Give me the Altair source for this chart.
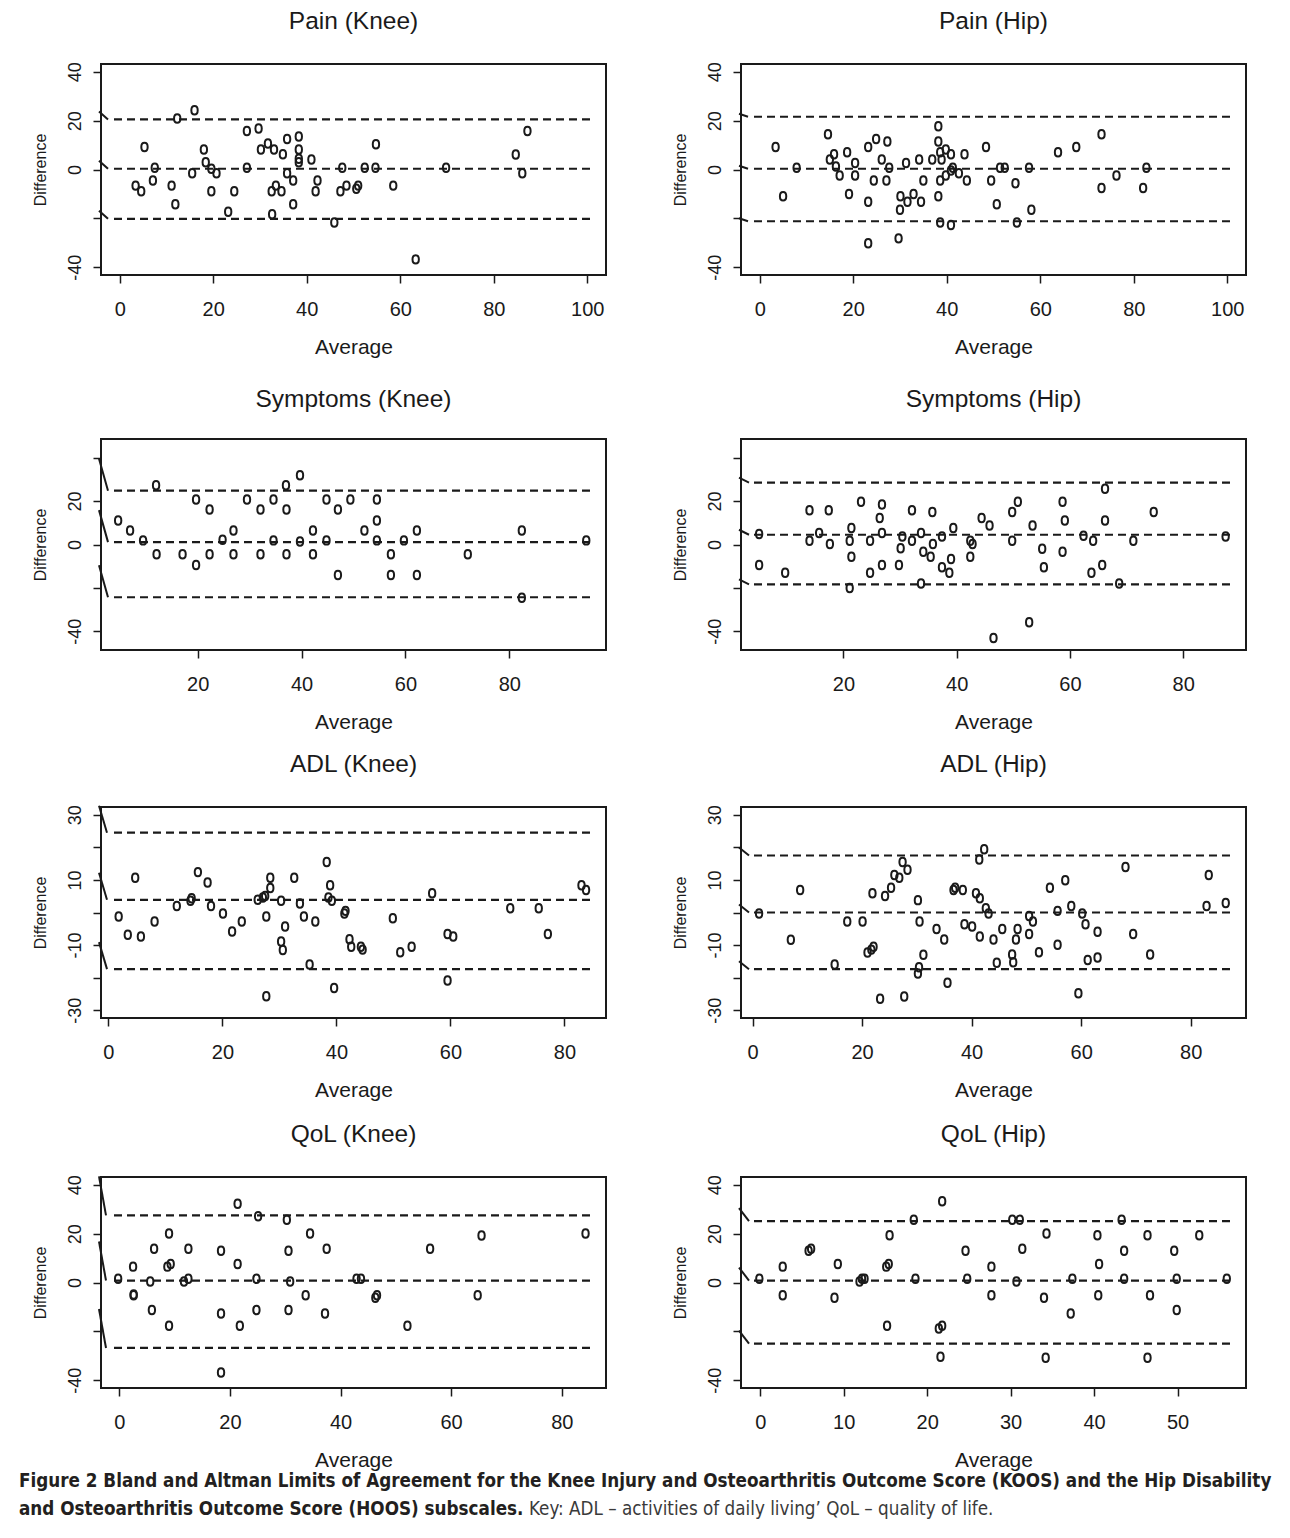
import altair as alt
import pandas as pd

FONT = "Liberation Sans"
CAP_FONT = "Liberation Sans Narrow, DejaVu Sans Condensed, sans-serif"
INK = "#1a1a1a"

# ---------------- data ----------------
# Pain (Knee)
pain_knee_avg = [5.3, 7.5, 7.1, 3.4, 4.6, 11.1, 12.3, 16.0, 11.9, 15.5, 18.0, 18.4, 19.6, 20.7, 19.6,
                 24.5, 23.2, 27.2, 29.7, 27.2, 30.2, 31.7, 33.0, 34.9, 35.8, 38.3, 38.3, 38.3, 38.3, 41.0,
                 35.8, 37.1, 33.4, 32.5, 34.6, 37.1, 32.6, 42.3, 41.9, 45.9, 47.6, 48.5, 47.2, 51.0, 50.6,
                 52.4, 54.7, 54.8, 58.5, 63.3, 69.8, 84.7, 87.2, 86.1]
pain_knee_diff = [9.2, 0.7, -4.5, -6.6, -8.9, -6.6, 20.9, 24.3, -14.2, -1.5, 8.2, 3.0, 0.3, -1.5, -8.9,
                  -8.9, -17.3, 15.8, 16.8, 0.7, 8.2, 10.6, 8.2, 6.2, 12.5, 13.5, 8.2, 4.4, 3.0, 4.1,
                  -1.5, -4.5, -6.6, -8.9, -8.9, -14.2, -18.3, -4.5, -8.9, -21.7, 0.7, -6.6, -8.9, -6.6, -7.9,
                  0.7, 0.7, 10.3, -6.6, -36.8, 0.7, 6.1, 15.8, -1.5]
pain_knee_loa = [0.3, 20.5, -20.2]

# Pain (Hip)
pain_hip_avg = [3.4, 5.0, 7.9, 14.6, 15.9, 15.0, 16.3, 17.1, 18.7, 20.4, 20.4, 19.1, 23.2, 24.9, 27.3,
                26.1, 27.7, 24.4, 27.1, 23.2, 23.2, 29.7, 30.1, 31.6, 32.9, 30.0, 34.5, 31.3, 34.1, 36.9,
                35.0, 38.2, 38.2, 38.6, 39.8, 40.9, 38.9, 43.8, 41.3, 40.9, 42.6, 39.8, 38.6, 38.2, 38.6,
                40.9, 44.3, 48.4, 49.5, 51.4, 52.4, 50.7, 54.7, 55.0, 57.6, 58.1, 63.8, 67.7, 73.1, 73.1,
                76.3, 82.0, 82.7]
pain_hip_diff = [9.2, -11.0, 0.7, 14.4, 6.2, 4.1, 1.2, -2.5, 7.1, 2.7, -2.5, -10.0, 9.2, 12.5, 11.5,
                 4.1, 0.7, -4.5, -4.5, -13.2, -30.2, -28.2, -11.0, -13.2, -10.0, -16.5, -13.2, 2.7, 4.1, 4.1,
                 -4.5, 17.7, 11.5, 7.1, 8.2, 6.2, 4.1, 6.2, 0.7, -0.4, -1.5, -2.5, -4.5, -11.0, -21.7,
                 -22.7, -4.5, 9.2, -4.5, 0.7, 0.7, -14.2, -5.6, -21.7, 0.7, -16.5, 7.1, 9.2, 14.4, -7.6,
                 -2.5, -7.6, 0.7]
pain_hip_loa = [0.3, 21.6, -21.2]

# Symptoms (Knee)
sym_knee_avg = [4.7, 7.0, 9.5, 12.0, 12.1, 17.1, 19.7, 19.7, 22.3, 22.3, 24.8, 26.9, 26.9, 29.5, 32.1,
                32.1, 34.6, 34.6, 37.0, 37.1, 37.1, 39.7, 39.7, 42.2, 42.2, 44.8, 44.8, 47.0, 47.0, 49.4,
                52.1, 54.5, 54.5, 54.5, 57.2, 57.2, 59.7, 62.2, 62.2, 72.0, 82.4, 82.4, 94.8]
sym_knee_diff = [11.1, 6.5, 1.9, 27.3, -4.5, -4.5, 20.7, -9.4, 16.1, -4.5, 2.2, 6.5, -4.5, 20.7, 16.1,
                 -4.5, 20.7, 1.9, 27.3, 16.1, -4.5, 31.9, 1.4, 6.5, -4.5, 20.7, 1.9, 16.1, -14.1, 20.7,
                 6.5, 20.7, 11.1, 1.9, -4.5, -14.1, 1.9, 6.5, -14.1, -4.5, 6.5, -24.5, 1.9]
sym_knee_loa = [1.1, 24.8, -24.3]

# Symptoms (Hip)
sym_hip_avg = [5.1, 5.1, 9.7, 14.0, 14.0, 15.7, 17.4, 17.6, 21.1, 21.4, 21.4, 21.1, 23.1, 24.7, 24.7,
               26.8, 26.4, 26.8, 26.8, 29.8, 30.1, 30.4, 32.1, 32.1, 33.7, 33.7, 34.1, 35.4, 35.7, 35.8,
               37.4, 37.4, 38.7, 39.0, 39.4, 42.4, 42.8, 42.4, 44.4, 45.8, 49.8, 50.8, 49.8, 53.4, 55.1,
               55.4, 52.8, 46.5, 58.7, 59.1, 58.7, 62.4, 64.1, 63.8, 65.7, 66.2, 66.2, 68.7, 71.2, 74.8,
               87.5]
sym_hip_diff = [4.8, -9.4, -13.0, 15.8, 1.7, 5.3, 15.8, 0.2, 1.7, 7.6, -5.6, -20.0, 19.7, 1.7, -13.0,
                18.4, 12.2, 5.3, -9.4, -9.4, -1.7, 3.7, 15.8, 1.7, 5.3, -18.0, -3.3, -5.6, 15.0, 0.2,
                3.7, -10.5, -13.0, -6.7, 7.6, 1.7, 0.2, -5.6, 12.2, 8.7, 15.0, 19.7, 1.7, 8.7, -2.0,
                -10.5, -35.8, -43.1, 19.7, 11.1, -3.3, 4.0, 1.7, -13.0, -9.4, 25.7, 11.1, -18.0, 1.7, 15.0,
                3.7]
sym_hip_loa = [4.5, 28.5, -18.4]

# ADL (Knee)
adl_knee_avg = [1.8, 3.4, 4.7, 5.7, 8.1, 12.0, 14.4, 14.6, 15.7, 17.4, 18.0, 20.1, 21.7, 23.4, 26.2,
                27.1, 27.5, 27.7, 28.4, 28.4, 30.3, 31.0, 30.3, 30.6, 32.6, 33.6, 34.3, 36.3, 35.3, 27.7,
                38.3, 38.9, 38.6, 39.2, 41.4, 41.6, 42.3, 42.6, 44.3, 44.6, 39.6, 49.9, 51.2, 53.2, 56.8,
                59.5, 60.5, 59.5, 70.5, 75.5, 77.1, 83.0, 83.8]
adl_knee_diff = [-1.2, -6.8, 10.7, -7.4, -2.8, 2.0, 3.6, 4.4, 12.4, 9.2, 2.0, -0.3, -5.8, -2.8, 3.9,
                 4.6, 5.1, -1.2, 7.5, 10.7, 3.6, -4.3, -8.9, -11.5, 10.7, 2.8, -1.2, -2.8, -16.0, -25.7,
                 15.5, 8.4, 4.6, 3.6, -0.3, 0.5, -8.2, -10.5, -10.5, -11.4, -23.2, -1.8, -12.2, -10.5, 5.9,
                 -6.6, -7.4, -20.9, 1.3, 1.3, -6.6, 8.4, 6.9]
adl_knee_loa = [3.9, 24.5, -17.4]

# ADL (Hip)
adl_hip_avg = [1.2, 7.0, 8.7, 15.0, 17.3, 20.1, 21.0, 21.7, 22.1, 21.9, 23.3, 24.2, 25.3, 25.9, 26.8,
               27.4, 28.3, 27.7, 30.2, 30.5, 31.2, 30.4, 30.2, 33.6, 35.0, 35.6, 36.7, 37.0, 38.4, 38.7,
               40.1, 40.8, 41.5, 41.4, 42.3, 41.5, 42.6, 43.1, 44.0, 44.6, 45.6, 47.4, 47.6, 48.1, 48.4,
               50.5, 51.2, 50.5, 52.3, 54.3, 55.7, 55.7, 57.1, 58.2, 60.2, 60.8, 59.5, 61.2, 63.0, 63.0,
               68.1, 69.5, 72.6, 82.9, 83.3, 86.4]
adl_hip_diff = [-0.3, -8.4, 6.9, -16.0, -2.8, -2.8, -12.3, -11.4, -10.5, 5.9, -26.5, 5.1, 7.6, 11.5, 10.7,
                15.5, 13.1, -25.8, 3.8, -2.8, -13.0, -16.8, -18.7, -5.1, -8.3, -21.6, 6.9, 7.6, 6.9, -3.6,
                -4.3, 5.9, 4.4, 16.3, 19.4, -7.4, 1.3, -0.3, -8.3, -15.4, -5.1, -12.9, -15.3, -8.3, -5.1,
                -1.1, -2.8, -6.6, -12.2, 7.6, 0.5, -9.9, 9.9, 2.0, -0.3, -3.6, -24.8, -14.6, -13.8, -5.9,
                14.0, -6.6, -12.9, 2.0, 11.5, 2.9]
adl_hip_loa = [0.0, 17.5, -17.4]

# QoL (Knee)
qol_knee_avg = [-0.2, 2.5, 2.6, 2.6, 5.6, 5.9, 6.3, 8.7, 9.3, 9.0, 9.0, 11.7, 12.5, 12.5, 18.4,
                18.4, 18.4, 21.4, 21.4, 21.8, 24.8, 24.8, 25.1, 30.3, 30.6, 30.6, 30.9, 33.7, 34.5, 37.2,
                37.5, 42.9, 43.7, 46.3, 46.6, 52.1, 56.2, 64.8, 65.5, 84.3]
qol_knee_diff = [1.5, 6.5, -5.2, -4.9, 0.4, -11.3, 13.8, 6.5, 7.6, 20.1, -17.7, 0.4, 1.5, 13.8, 13.0,
                 -12.7, -36.9, 32.2, 7.6, -17.7, 1.5, -11.3, 27.1, 25.7, 13.0, -11.3, 0.4, -5.2, 20.1, -12.7,
                 13.8, 1.5, 1.5, -6.2, -5.2, -17.7, 13.8, -5.2, 19.2, 20.1]
qol_knee_loa = [0.8, 27.5, -26.8]

# QoL (Hip)
qol_hip_avg = [-0.1, 2.7, 2.7, 5.8, 6.1, 8.9, 9.3, 11.9, 12.2, 12.5, 15.1, 15.4, 15.5, 15.2, 18.4,
               18.6, 21.4, 21.8, 21.8, 21.6, 24.6, 24.8, 27.7, 27.7, 30.2, 31.1, 31.4, 30.7, 34.3, 34.0,
               34.2, 37.2, 37.4, 40.4, 40.6, 40.5, 43.3, 43.6, 43.6, 46.4, 46.7, 46.4, 49.6, 49.9, 49.9,
               52.6, 55.9]
qol_hip_diff = [1.5, 6.5, -5.2, 13.0, 13.8, -6.2, 7.6, 0.4, 1.5, 1.5, 6.5, 7.6, 19.3, -17.7, 25.7,
                1.5, -18.8, -17.7, 33.3, -30.4, 13.0, 1.5, 6.5, -5.2, 25.7, 25.7, 13.8, 0.4, 20.1, -6.2,
                -30.8, -12.7, 1.5, 19.3, 7.6, -5.2, 25.7, 13.0, 1.5, 19.3, -5.2, -30.8, 13.0, -11.3, 1.5,
                19.3, 1.5]
qol_hip_loa = [0.8, 25.1, -25.0]

# axis ranges / ticks
x_dom_pain = [-4, 104]
x_dom_sym_knee = [1.4, 98.6]
x_dom_sym_hip = [1.9, 91.1]
x_dom_adl_knee = [-1.3, 87.3]
x_dom_adl_hip = [-2.1, 90.1]
x_dom_qol_knee = [-3.3, 88.0]
x_dom_qol_hip = [-2.3, 58.2]
y_dom_pain = [-43.2, 43.2]
y_dom_sym = [-48.6, 48.6]
y_dom_adl = [-32.4, 32.4]
y_dom_qol = [-43.2, 43.2]
x_ticks_100 = [0, 20, 40, 60, 80, 100]
x_ticks_sym = [20, 40, 60, 80]
x_ticks_80 = [0, 20, 40, 60, 80]
x_ticks_50 = [0, 10, 20, 30, 40, 50]
y_ticks_40 = [-40, -20, 0, 20, 40]
y_ticks_30 = [-30, -20, -10, 0, 10, 20, 30]

caption_bold_1 = ("Figure 2 Bland and Altman Limits of Agreement for the Knee Injury and Osteoarthritis "
                  "Outcome Score (KOOS) and the Hip Disability")
caption_bold_2 = "and Osteoarthritis Outcome Score (HOOS) subscales."
caption_plain = "Key: ADL \u2013 activities of daily living\u2019 QoL \u2013 quality of life."

# ---------------- drawing ----------------
BOX_W, BOX_H = 505, 211
SHAPE = "M0,-1C1,-1 1,1 0,1C-1,1 -1,-1 0,-1Z"


def make_panel(title, avg, diff, loa, xdom, ydom, xticks, yticks, yhide, slash):
    y0, y1 = ydom
    ppy = BOX_H / (y1 - y0)
    xscale = alt.Scale(domain=xdom, nice=False, zero=False)
    yscale = alt.Scale(domain=ydom, nice=False, zero=False)
    xaxis = alt.Axis(values=xticks, title="Average", domain=False, grid=False,
                     tickSize=8, tickWidth=1.5, tickColor=INK,
                     labelFont=FONT, labelFontSize=20, labelColor=INK, labelPadding=16,
                     labelFlush=False, labelOverlap=False, labelBound=False,
                     labelExpr="'' + datum.value",
                     titleFont=FONT, titleFontSize=21, titleFontWeight="normal", titleColor=INK,
                     titleBaseline="alphabetic", titleY=78, titleX=BOX_W / 2, titleAlign="center")
    hide = " || ".join("datum.value == %s" % v for v in yhide)
    yaxis = alt.Axis(values=yticks, title="Difference", domain=False, grid=False,
                     tickSize=8, tickWidth=1.5, tickColor=INK,
                     labelFont=FONT, labelFontSize=18, labelColor=INK, labelPadding=9,
                     labelAngle=-90, labelAlign="center", labelBaseline="bottom",
                     labelFlush=False, labelOverlap=False, labelBound=False,
                     labelExpr="(%s) ? '' : '' + datum.value" % hide,
                     titleFont=FONT, titleFontSize=16, titleFontWeight="normal", titleColor=INK,
                     titleAngle=270, titleBaseline="bottom", titleAlign="center",
                     titleX=-53, titleY=BOX_H / 2)

    pts = pd.DataFrame({"avg": avg, "diff": diff})
    points = alt.Chart(pts).mark_point(
        shape=SHAPE, size=72, filled=False, stroke=INK, strokeWidth=2, opacity=1
    ).encode(
        x=alt.X("avg:Q", scale=xscale, axis=xaxis),
        y=alt.Y("diff:Q", scale=yscale, axis=yaxis),
    )

    h, w = slash
    lines = pd.DataFrame({"lv": loa})
    lines["top"] = lines["lv"] + h / ppy
    dashed = alt.Chart(lines).mark_rule(
        strokeDash=[8, 5], strokeWidth=2.2, color=INK
    ).encode(
        x=alt.value(13), x2=alt.value(BOX_W - 12),
        y=alt.Y("lv:Q", scale=yscale, axis=yaxis),
    )
    slashes = alt.Chart(lines).mark_rule(strokeWidth=2, color=INK).encode(
        x=alt.value(-2), x2=alt.value(w),
        y=alt.Y("top:Q", scale=yscale, axis=yaxis),
        y2="lv:Q",
    )
    return alt.layer(dashed, slashes, points).properties(
        width=BOX_W, height=BOX_H,
        title=alt.TitleParams(title, font=FONT, fontSize=24.5, fontWeight="normal", color=INK,
                              anchor="middle", baseline="alphabetic", offset=8),
    )


p1 = make_panel("Pain (Knee)", pain_knee_avg, pain_knee_diff, pain_knee_loa, x_dom_pain, y_dom_pain,
                x_ticks_100, y_ticks_40, [-20], (8, 7))
p2 = make_panel("Pain (Hip)", pain_hip_avg, pain_hip_diff, pain_hip_loa, x_dom_pain, y_dom_pain,
                x_ticks_100, y_ticks_40, [-20], (3, 7))
p3 = make_panel("Symptoms (Knee)", sym_knee_avg, sym_knee_diff, sym_knee_loa, x_dom_sym_knee, y_dom_sym,
                x_ticks_sym, y_ticks_40, [40, -20], (32, 7))
p4 = make_panel("Symptoms (Hip)", sym_hip_avg, sym_hip_diff, sym_hip_loa, x_dom_sym_hip, y_dom_sym,
                x_ticks_sym, y_ticks_40, [40, -20], (5, 8))
p5 = make_panel("ADL (Knee)", adl_knee_avg, adl_knee_diff, adl_knee_loa, x_dom_adl_knee, y_dom_adl,
                x_ticks_80, y_ticks_30, [20, 0, -20], (27, 6))
p6 = make_panel("ADL (Hip)", adl_hip_avg, adl_hip_diff, adl_hip_loa, x_dom_adl_hip, y_dom_adl,
                x_ticks_80, y_ticks_30, [20, 0, -20], (8, 8))
p7 = make_panel("QoL (Knee)", qol_knee_avg, qol_knee_diff, qol_knee_loa, x_dom_qol_knee, y_dom_qol,
                x_ticks_80, y_ticks_40, [-20], (39, 5))
p8 = make_panel("QoL (Hip)", qol_hip_avg, qol_hip_diff, qol_hip_loa, x_dom_qol_hip, y_dom_qol,
                x_ticks_50, y_ticks_40, [-20], (13, 8))

r1, r2, r3, r4 = [alt.hconcat(a, b, spacing=64) for a, b in [(p1, p2), (p3, p4), (p5, p6), (p7, p8)]]
grid = alt.vconcat(alt.vconcat(alt.vconcat(r1, r2, spacing=27), r3, spacing=18), r4, spacing=20)

CAP_SIZE = 18.7
cap_df = pd.DataFrame({"t": [0]})
cap_base = alt.Chart(cap_df)
cap1 = cap_base.mark_text(align="left", baseline="alphabetic", font=CAP_FONT, fontSize=CAP_SIZE,
                          fontWeight="bold", color="#231f20").encode(
    x=alt.value(-82), y=alt.value(7), text=alt.value(caption_bold_1))
cap2 = cap_base.mark_text(align="left", baseline="alphabetic", font=CAP_FONT, fontSize=CAP_SIZE,
                          fontWeight="bold", color="#231f20").encode(
    x=alt.value(-82), y=alt.value(35), text=alt.value(caption_bold_2))
cap3 = cap_base.mark_text(align="left", baseline="alphabetic", font=CAP_FONT, fontSize=CAP_SIZE,
                          fontWeight="normal", color="#3a3a3a").encode(
    x=alt.value(428), y=alt.value(35), text=alt.value(caption_plain))
caption = alt.layer(cap1, cap2, cap3).properties(
    width=900, height=42, view=alt.ViewBackground(stroke="transparent"))

chart = alt.vconcat(grid, caption, spacing=0).properties(
    padding={"left": 10, "top": 0, "right": 0, "bottom": 0}
).configure_view(stroke=INK, strokeWidth=2)

chart.save("out.html", embed_options={"renderer": "svg", "actions": False})
